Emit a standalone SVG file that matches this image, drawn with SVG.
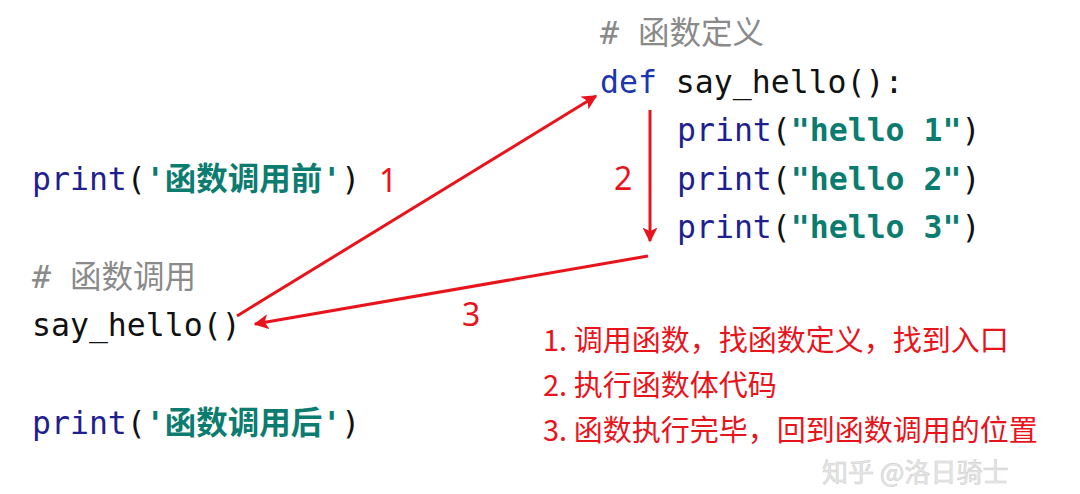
<svg xmlns="http://www.w3.org/2000/svg" width="1080" height="494" viewBox="0 0 1080 494">
<style>
.code{font-family:"DejaVu Sans Mono","Liberation Mono","Noto Sans CJK SC",monospace;font-size:31.5px}
.kw{fill:#1f1f8f}
.def{fill:#1b36b0}
.str{fill:#0c7c70;font-weight:bold}
.id{fill:#111111}
.cm{fill:#8a8a8a}
.lbl{font-family:"Noto Sans","Noto Sans CJK SC",sans-serif;font-size:32px;fill:#e8141c}
.note{font-family:"Noto Sans CJK SC","Noto Sans",sans-serif;font-size:29px;fill:#e8141c}
.arrow{stroke:#e8141c;stroke-width:3;fill:none;marker-end:url(#ah)}
</style>
<defs>
<marker id="ah" viewBox="0 0 10 10" refX="9" refY="5" markerWidth="5" markerHeight="5" orient="auto" markerUnits="strokeWidth">
<path d="M0,0 L10,5 L0,10 L2.5,5 Z" fill="#e8141c"/>
</marker>
</defs>
<rect width="1080" height="494" fill="#ffffff"/>
<g id="def-block">
<text class="code cm" x="600" y="44"># 函数定义</text>
<text class="code" x="600" y="93"><tspan class="def">def</tspan><tspan class="id"> say_hello():</tspan></text>
<text class="code" x="677" y="141"><tspan class="kw">print</tspan><tspan class="id">(</tspan><tspan class="str">"hello 1"</tspan><tspan class="id">)</tspan></text>
<text class="code" x="677" y="190"><tspan class="kw">print</tspan><tspan class="id">(</tspan><tspan class="str">"hello 2"</tspan><tspan class="id">)</tspan></text>
<text class="code" x="677" y="238"><tspan class="kw">print</tspan><tspan class="id">(</tspan><tspan class="str">"hello 3"</tspan><tspan class="id">)</tspan></text>
</g>
<g id="print-before">
<text class="code" x="32" y="190"><tspan class="kw">print</tspan><tspan class="id">(</tspan><tspan class="str">'函数调用前'</tspan><tspan class="id">)</tspan></text>
</g>
<g id="call">
<text class="code cm" x="32" y="288"># 函数调用</text>
<text class="code id" x="32" y="336">say_hello()</text>
</g>
<g id="print-after">
<text class="code" x="32" y="434"><tspan class="kw">print</tspan><tspan class="id">(</tspan><tspan class="str">'函数调用后'</tspan><tspan class="id">)</tspan></text>
</g>
<g id="connectors">
<line class="arrow" x1="237" y1="316" x2="596" y2="96"/>
<line class="arrow" x1="650" y1="110" x2="650" y2="241"/>
<line class="arrow" x1="648" y1="256" x2="255" y2="324"/>
<text class="lbl" x="379" y="192">1</text>
<text class="lbl" x="614" y="190">2</text>
<text class="lbl" x="462" y="326">3</text>
</g>
<g id="notes">
<text class="note" x="543" y="351">1. 调用函数，找函数定义，找到入口</text>
<text class="note" x="543" y="396">2. 执行函数体代码</text>
<text class="note" x="543" y="441">3. 函数执行完毕，回到函数调用的位置</text>
</g>
<g id="watermark">
<text x="822" y="482" font-family="Noto Sans CJK SC,sans-serif" font-size="26" fill="#e4e4e4" stroke="#c8c8c8" stroke-width="0.6" opacity="0.85">知乎 @洛日骑士</text>
</g>
</svg>
